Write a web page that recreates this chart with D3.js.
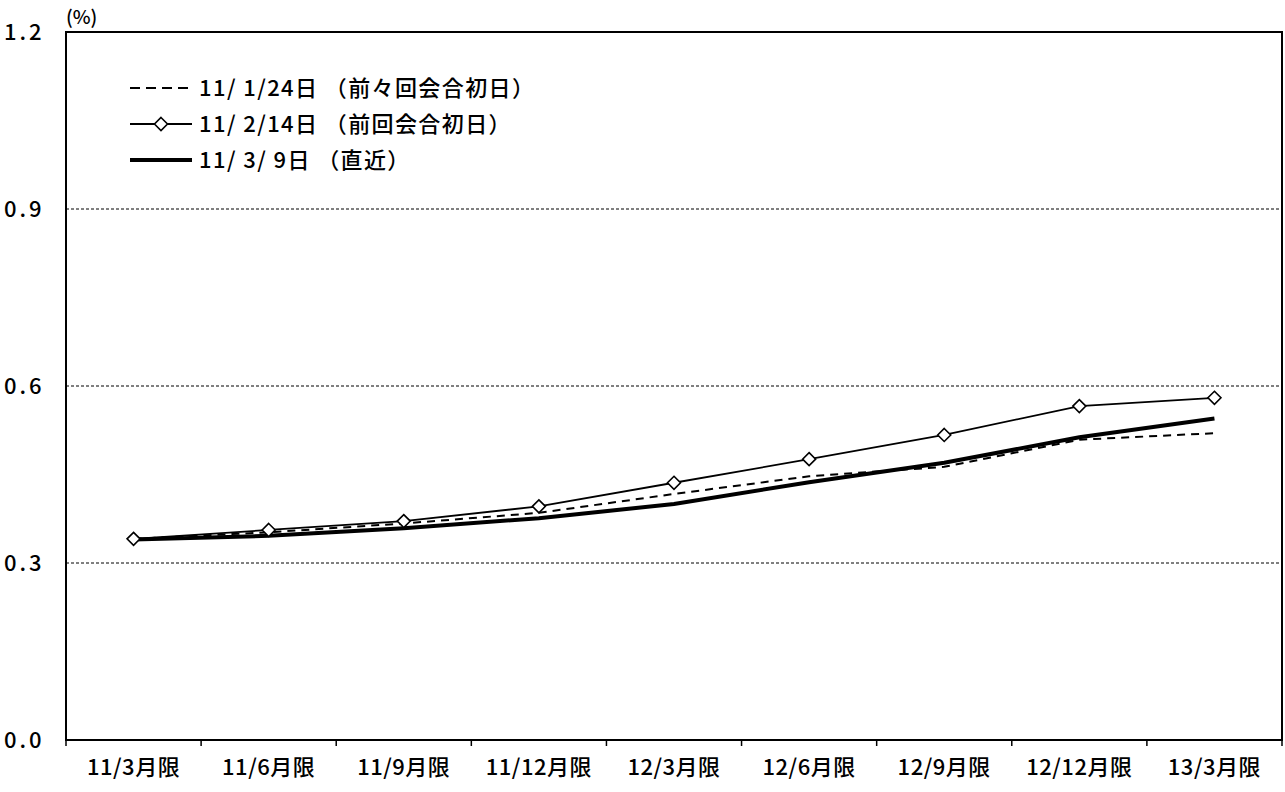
<!DOCTYPE html>
<html>
<head>
<meta charset="utf-8">
<script src="https://cdn.jsdelivr.net/npm/d3@7"></script>
<style>
  html, body { margin: 0; padding: 0; background: #fff; }
  svg text { font-family: "Noto Sans CJK JP", "Noto Sans", sans-serif; fill: #000; font-weight: 500; }
</style>
</head>
<body>
<svg id="chart" width="1285" height="792"></svg>
<script>
// Contract months (x categories)
const months = ["11/3月限", "11/6月限", "11/9月限", "11/12月限", "12/3月限", "12/6月限", "12/9月限", "12/12月限", "13/3月限"];

// Implied forward rates (%) on each observation date
const seriesJan24 = [0.341, 0.352, 0.367, 0.385, 0.417, 0.447, 0.463, 0.509, 0.520];
const seriesFeb14 = [0.341, 0.356, 0.371, 0.396, 0.436, 0.476, 0.517, 0.566, 0.580];
const seriesMar09 = [0.340, 0.346, 0.359, 0.376, 0.400, 0.437, 0.470, 0.513, 0.545];

const legendLabels = ["11/ 1/24日 （前々回会合初日）", "11/ 2/14日 （前回会合初日）", "11/ 3/ 9日 （直近）"];
const yTicks = [0.0, 0.3, 0.6, 0.9, 1.2];

const svg = d3.select("#chart");
const plotL = 66, plotR = 1282, plotT = 32, plotB = 740;

const x = d3.scaleBand().domain(months).range([plotL, plotR]).paddingInner(0).paddingOuter(0);
const y = d3.scaleLinear().domain([0, 1.2]).range([plotB, plotT]);
const cx = d => x(d) + x.bandwidth() / 2;

// Dashed horizontal gridlines
svg.append("g")
  .selectAll("line")
  .data(yTicks.filter(v => v > 0 && v < 1.2))
  .join("line")
  .attr("x1", plotL).attr("x2", plotR)
  .attr("y1", d => y(d)).attr("y2", d => y(d))
  .attr("stroke", "#000").attr("stroke-width", 1)
  .attr("stroke-dasharray", "3,2");

// Plot frame
svg.append("rect")
  .attr("x", plotL).attr("y", plotT)
  .attr("width", plotR - plotL).attr("height", plotB - plotT)
  .attr("fill", "none").attr("stroke", "#000").attr("stroke-width", 2);

// X axis with ticks between categories
const xAxis = svg.append("g").attr("transform", `translate(0,${plotB})`);
xAxis.selectAll("line.tick")
  .data(months.concat(["end"]))
  .join("line")
  .attr("class", "tick")
  .attr("x1", (d, i) => plotL + i * x.bandwidth())
  .attr("x2", (d, i) => plotL + i * x.bandwidth())
  .attr("y1", 0).attr("y2", 6)
  .attr("stroke", "#000").attr("stroke-width", 1.5);
xAxis.selectAll("text")
  .data(months)
  .join("text")
  .attr("x", d => cx(d))
  .attr("y", 35)
  .attr("text-anchor", "middle")
  .attr("font-size", 22)
  .attr("letter-spacing", "0.5px")
  .text(d => d);

// Y axis labels
svg.append("g")
  .selectAll("text")
  .data(yTicks)
  .join("text")
  .attr("x", 4)
  .attr("y", d => y(d))
  .attr("dy", "0.36em")
  .attr("font-size", 22)
  .attr("letter-spacing", "3px")
  .text(d => d3.format(".1f")(d));

svg.append("text")
  .attr("x", 66).attr("y", 24)
  .attr("font-size", 19)
  .text("(%)");

// Series lines
const line = d3.line()
  .x((d, i) => cx(months[i]))
  .y(d => y(d));

svg.append("path").datum(seriesJan24)
  .attr("d", line).attr("fill", "none")
  .attr("stroke", "#000").attr("stroke-width", 2)
  .attr("stroke-dasharray", "8,6");

svg.append("path").datum(seriesFeb14)
  .attr("d", line).attr("fill", "none")
  .attr("stroke", "#000").attr("stroke-width", 1.8);

svg.append("path").datum(seriesMar09)
  .attr("d", line).attr("fill", "none")
  .attr("stroke", "#000").attr("stroke-width", 4);

const diamond = s => `M0,${-s} L${s},0 L0,${s} L${-s},0 Z`;
svg.append("g")
  .selectAll("path")
  .data(seriesFeb14)
  .join("path")
  .attr("transform", (d, i) => `translate(${cx(months[i])},${y(d)})`)
  .attr("d", diamond(6.5))
  .attr("fill", "#fff").attr("stroke", "#000").attr("stroke-width", 1.6);

// Legend
const lg = svg.append("g");
const rows = [88, 124, 160];
const lx0 = 130, lx1 = 192;
lg.append("line").attr("x1", lx0).attr("x2", lx1).attr("y1", rows[0]).attr("y2", rows[0])
  .attr("stroke", "#000").attr("stroke-width", 2).attr("stroke-dasharray", "10,6");
lg.append("line").attr("x1", lx0).attr("x2", lx1).attr("y1", rows[1]).attr("y2", rows[1])
  .attr("stroke", "#000").attr("stroke-width", 1.8);
lg.append("path").attr("transform", `translate(${(lx0 + lx1) / 2},${rows[1]})`)
  .attr("d", diamond(6.5)).attr("fill", "#fff").attr("stroke", "#000").attr("stroke-width", 1.6);
lg.append("line").attr("x1", lx0).attr("x2", lx1).attr("y1", rows[2]).attr("y2", rows[2])
  .attr("stroke", "#000").attr("stroke-width", 4);
lg.selectAll("text")
  .data(legendLabels)
  .join("text")
  .attr("x", 199)
  .attr("y", (d, i) => rows[i])
  .attr("dy", "0.36em")
  .attr("font-size", 22)
  .attr("letter-spacing", "1.4px")
  .text(d => d);
</script>
</body>
</html>
